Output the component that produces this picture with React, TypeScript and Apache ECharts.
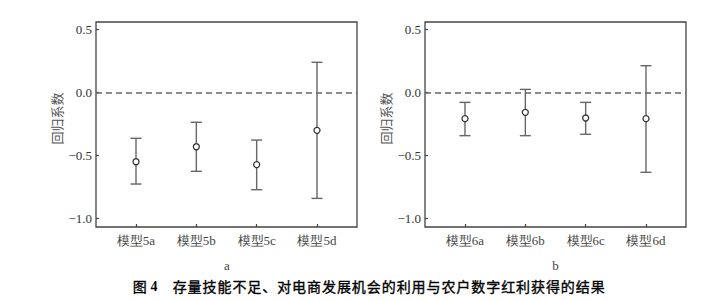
import React, { useEffect, useRef } from "react";
import * as echarts from "echarts";

const models5 = ["模型5a", "模型5b", "模型5c", "模型5d"];
const coef5 = [-0.548, -0.429, -0.571, -0.299];
const lower5 = [-0.725, -0.624, -0.77, -0.839];
const upper5 = [-0.362, -0.235, -0.376, 0.241];

const models6 = ["模型6a", "模型6b", "模型6c", "模型6d"];
const coef6 = [-0.206, -0.156, -0.201, -0.206];
const lower6 = [-0.341, -0.341, -0.33, -0.632];
const upper6 = [-0.077, 0.026, -0.077, 0.214];

const yTicks = [-1, -0.5, 0, 0.5];
const xPositions = [1, 2, 3, 4];
const yAxisName = "回归系数";
const panelLabels = ["a", "b"];
const captionHead = "图";
const captionNum = "4";
const captionBody = "存量技能不足、对电商发展机会的利用与农户数字红利获得的结果";

const SERIF = "Liberation Serif";
const CJK = "Noto Sans CJK SC";

function renderErrorBar(params: any, api: any) {
  const x = api.value(0);
  const lo = api.value(1);
  const hi = api.value(2);
  const pLo = api.coord([x, lo]);
  const pHi = api.coord([x, hi]);
  const cap = 5.5;
  const style = { stroke: "#666", lineWidth: 1.4 };
  return {
    type: "group",
    children: [
      { type: "line", shape: { x1: pLo[0], y1: pLo[1], x2: pHi[0], y2: pHi[1] }, style },
      { type: "line", shape: { x1: pLo[0] - cap, y1: pLo[1], x2: pLo[0] + cap, y2: pLo[1] }, style },
      { type: "line", shape: { x1: pHi[0] - cap, y1: pHi[1], x2: pHi[0] + cap, y2: pHi[1] }, style },
    ],
  };
}

function makeX(gridIndex: number, names: string[]) {
  return {
    type: "value",
    gridIndex,
    position: "bottom",
    min: 0.337,
    max: 4.663,
    splitLine: { show: false },
    axisLine: { show: false, onZero: false },
    axisTick: { show: true, inside: true, length: 3, customValues: xPositions, lineStyle: { color: "#444", width: 1.2 } },
    axisLabel: {
      customValues: xPositions,
      formatter: (v: number) => names[Math.round(v) - 1] ?? "",
      fontFamily: SERIF,
      fontSize: 13,
      color: "#444",
      margin: 7,
    },
  };
}

function makeY(gridIndex: number) {
  return {
    type: "value",
    gridIndex,
    position: "left",
    min: -1.066,
    max: 0.561,
    splitLine: { show: false },
    axisLine: { show: false, onZero: false },
    axisTick: { show: true, inside: true, length: 3, customValues: yTicks, lineStyle: { color: "#444", width: 1.2 } },
    axisLabel: {
      customValues: yTicks,
      formatter: (v: number) => (v < 0 ? "\u2212" : "") + Math.abs(v).toFixed(1),
      fontFamily: SERIF,
      fontSize: 13,
      color: "#333",
      margin: 4,
    },
    name: yAxisName,
    nameLocation: "middle",
    nameGap: 33,
    nameTextStyle: { fontFamily: CJK, fontSize: 13, color: "#555", padding: [0, 0, 0, 12] },
  };
}

function seriesFor(idx: number, coef: number[], lower: number[], upper: number[]) {
  return [
    {
      type: "custom",
      xAxisIndex: idx,
      yAxisIndex: idx,
      renderItem: renderErrorBar,
      data: xPositions.map((x, i) => [x, lower[i], upper[i]]),
      z: 3,
      silent: true,
    },
    {
      type: "scatter",
      xAxisIndex: idx,
      yAxisIndex: idx,
      symbol: "circle",
      symbolSize: 6,
      itemStyle: { color: "#fff", borderColor: "#333", borderWidth: 1.3, opacity: 1 },
      data: xPositions.map((x, i) => [x, coef[i]]),
      z: 4,
      silent: true,
      markLine: {
        silent: true,
        symbol: "none",
        label: { show: false },
        lineStyle: { color: "#666", type: [6, 4], width: 1.5 },
        data: [{ yAxis: 0 }],
        z: 1,
      },
    },
  ];
}

export default function App() {
  const ref = useRef<HTMLDivElement>(null);
  useEffect(() => {
    document.body.style.margin = "0";
    if (!ref.current) return;
    const chart = echarts.init(ref.current, null, { renderer: "svg" });

    const capStyle = { fontFamily: CJK, fontSize: 14, fontWeight: "normal", fill: "#000", stroke: "#000", lineWidth: 0.35 };
    const captionChars: any[] = [];
    captionChars.push({ type: "text", left: 132.5, top: 279, style: { ...capStyle, text: captionHead } });
    captionChars.push({
      type: "text",
      left: 150.5,
      top: 279,
      style: { text: captionNum, fontFamily: SERIF, fontSize: 14, fontWeight: "bold", fill: "#000" },
    });
    Array.from(captionBody).forEach((ch, i) => {
      captionChars.push({ type: "text", left: 172.5 + i * 14.93, top: 279, style: { ...capStyle, text: ch } });
    });

    chart.setOption({
      animation: false,
      grid: [
        { left: 96, top: 22, width: 261, height: 205, show: true, borderColor: "#444", borderWidth: 1.3, backgroundColor: "transparent" },
        { left: 425, top: 22, width: 261, height: 205, show: true, borderColor: "#444", borderWidth: 1.3, backgroundColor: "transparent" },
      ],
      xAxis: [makeX(0, models5), makeX(1, models6)],
      yAxis: [makeY(0), makeY(1)],
      series: [...seriesFor(0, coef5, lower5, upper5), ...seriesFor(1, coef6, lower6, upper6)],
      graphic: [
        {
          type: "text",
          x: 227,
          y: 265,
          style: { text: panelLabels[0], fontFamily: SERIF, fontSize: 13, fill: "#444", textAlign: "center", textVerticalAlign: "middle" },
        },
        {
          type: "text",
          x: 555.5,
          y: 265,
          style: { text: panelLabels[1], fontFamily: SERIF, fontSize: 13, fill: "#444", textAlign: "center", textVerticalAlign: "middle" },
        },
        ...captionChars,
      ],
    });
    return () => chart.dispose();
  }, []);
  return <div ref={ref} style={{ width: 722, height: 300 }} />;
}
